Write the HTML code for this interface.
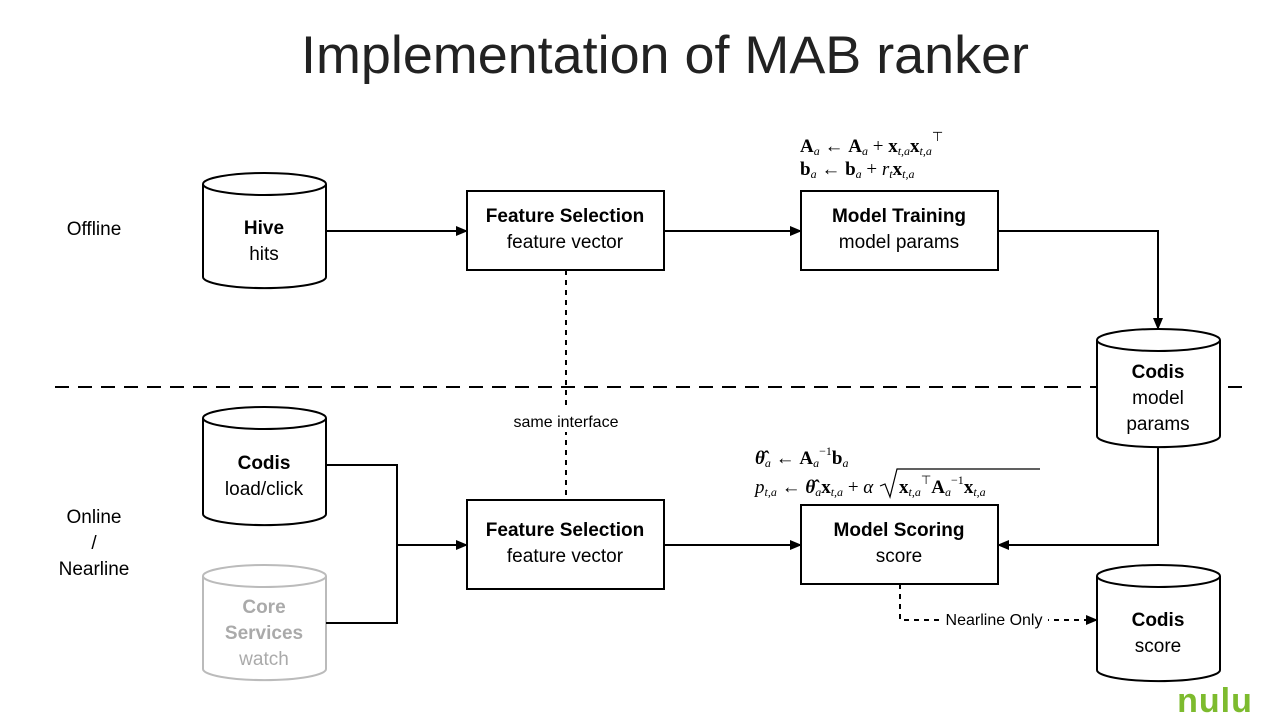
<!DOCTYPE html>
<html><head><meta charset="utf-8"><style>
body{margin:0;background:#fff;}
svg{display:block;font-family:"Liberation Sans",sans-serif;}
.m{font-family:"Liberation Serif",serif;font-size:19px;}
</style></head><body>
<svg width="1280" height="720" viewBox="0 0 1280 720">
<defs><marker id="a" markerWidth="12" markerHeight="10" refX="11" refY="5" orient="auto" markerUnits="userSpaceOnUse"><path d="M0,0 L12,5 L0,10z" fill="#000"/></marker></defs>
<text x="665" y="73" font-size="53" text-anchor="middle" fill="#222" textLength="728" lengthAdjust="spacingAndGlyphs">Implementation of MAB ranker</text>
<line x1="55" y1="387" x2="1245" y2="387" stroke="#000" stroke-width="2" stroke-dasharray="14,9"/>
<text x="94" y="235" font-size="19" text-anchor="middle">Offline</text>
<text x="94" y="523" font-size="19" text-anchor="middle">Online</text>
<text x="94" y="549" font-size="19" text-anchor="middle">/</text>
<text x="94" y="575" font-size="19" text-anchor="middle">Nearline</text>
<g fill="#fff" stroke="#000" stroke-width="2">
<path d="M203,184 V277 A61,11 0 0 0 326,277 V184"/><ellipse cx="264.5" cy="184" rx="61.5" ry="11"/>
<path d="M203,418 V514 A61,11 0 0 0 326,514 V418"/><ellipse cx="264.5" cy="418" rx="61.5" ry="11"/>
<path d="M1097,340 V436 A61,11 0 0 0 1220,436 V340"/><ellipse cx="1158.5" cy="340" rx="61.5" ry="11"/>
<path d="M1097,576 V670 A61,11 0 0 0 1220,670 V576"/><ellipse cx="1158.5" cy="576" rx="61.5" ry="11"/>
<g stroke="#bbb"><path d="M203,576 V669 A61,11 0 0 0 326,669 V576"/><ellipse cx="264.5" cy="576" rx="61.5" ry="11"/></g>
<rect x="467" y="191" width="197" height="79"/><rect x="801" y="191" width="197" height="79"/>
<rect x="467" y="500" width="197" height="89"/><rect x="801" y="505" width="197" height="79"/>
</g>
<g font-size="19" text-anchor="middle">
<text x="264" y="234" font-weight="bold">Hive</text><text x="264" y="260">hits</text>
<text x="264" y="469" font-weight="bold">Codis</text><text x="264" y="495">load/click</text>
<text x="264" y="613" font-weight="bold" fill="#aaa">Core</text><text x="264" y="639" font-weight="bold" fill="#aaa">Services</text><text x="264" y="665" fill="#aaa">watch</text>
<text x="1158" y="378" font-weight="bold">Codis</text><text x="1158" y="404">model</text><text x="1158" y="430">params</text>
<text x="1158" y="626" font-weight="bold">Codis</text><text x="1158" y="652">score</text>
<text x="565" y="222" font-weight="bold">Feature Selection</text><text x="565" y="248">feature vector</text>
<text x="899" y="222" font-weight="bold">Model Training</text><text x="899" y="248">model params</text>
<text x="565" y="536" font-weight="bold">Feature Selection</text><text x="565" y="562">feature vector</text>
<text x="899" y="536" font-weight="bold">Model Scoring</text><text x="899" y="562">score</text>
</g>
<g stroke="#000" stroke-width="2" fill="none">
<line x1="326" y1="231" x2="467" y2="231" marker-end="url(#a)"/>
<line x1="664" y1="231" x2="801" y2="231" marker-end="url(#a)"/>
<polyline points="998,231 1158,231 1158,329" marker-end="url(#a)"/>
<polyline points="1158,447 1158,545 998,545" marker-end="url(#a)"/>
<polyline points="326,465 397,465 397,623 326,623"/>
<line x1="397" y1="545" x2="467" y2="545" marker-end="url(#a)"/>
<line x1="664" y1="545" x2="801" y2="545" marker-end="url(#a)"/>
<line x1="566" y1="270" x2="566" y2="500" stroke-dasharray="5,5"/>
<polyline points="900,584 900,620 1097,620" stroke-dasharray="5,5" marker-end="url(#a)"/>
</g>
<rect x="506" y="410" width="120" height="22" fill="#fff"/>
<text x="566" y="427" font-size="16" text-anchor="middle">same interface</text>
<rect x="940" y="610" width="108" height="20" fill="#fff"/>
<text x="994" y="625" font-size="16" text-anchor="middle">Nearline Only</text>
<text class="m" x="800" y="152"><tspan font-weight="bold">A</tspan><tspan font-size="12" font-style="italic" dy="3">a</tspan><tspan dy="-3"> ← </tspan><tspan font-weight="bold">A</tspan><tspan font-size="12" font-style="italic" dy="3">a</tspan><tspan dy="-3"> + </tspan><tspan font-weight="bold">x</tspan><tspan font-size="12" font-style="italic" dy="3">t,a</tspan><tspan font-weight="bold" dy="-3">x</tspan><tspan font-size="12" font-style="italic" dy="3">t,a</tspan><tspan font-size="13" dy="-14">⊤</tspan></text>
<text class="m" x="800" y="175"><tspan font-weight="bold">b</tspan><tspan font-size="12" font-style="italic" dy="3">a</tspan><tspan dy="-3"> ← </tspan><tspan font-weight="bold">b</tspan><tspan font-size="12" font-style="italic" dy="3">a</tspan><tspan dy="-3"> + </tspan><tspan font-style="italic">r</tspan><tspan font-size="12" font-style="italic" dy="3">t</tspan><tspan font-weight="bold" dy="-3">x</tspan><tspan font-size="12" font-style="italic" dy="3">t,a</tspan></text>
<text class="m" x="755" y="464"><tspan font-weight="bold" font-style="italic">θ̂</tspan><tspan font-size="12" font-style="italic" dy="3">a</tspan><tspan dy="-3"> ← </tspan><tspan font-weight="bold">A</tspan><tspan font-size="12" font-style="italic" dy="3">a</tspan><tspan font-size="12" dy="-12">−1</tspan><tspan font-weight="bold" dy="9">b</tspan><tspan font-size="12" font-style="italic" dy="3">a</tspan></text>
<text class="m" x="755" y="493"><tspan font-style="italic">p</tspan><tspan font-size="12" font-style="italic" dy="3">t,a</tspan><tspan dy="-3"> ← </tspan><tspan font-weight="bold" font-style="italic">θ̂</tspan><tspan font-size="12" font-style="italic" dy="3">a</tspan><tspan font-weight="bold" dy="-3">x</tspan><tspan font-size="12" font-style="italic" dy="3">t,a</tspan><tspan dy="-3"> + </tspan><tspan font-style="italic">α</tspan></text>
<path d="M880,486 L885,484 L890,497 L897,469 L1040,469" stroke="#000" stroke-width="1.2" fill="none"/>
<text class="m" x="899" y="493"><tspan font-weight="bold">x</tspan><tspan font-size="12" font-style="italic" dy="3">t,a</tspan><tspan font-size="12" dy="-12">⊤</tspan><tspan font-weight="bold" dy="9">A</tspan><tspan font-size="12" font-style="italic" dy="3">a</tspan><tspan font-size="12" dy="-12">−1</tspan><tspan font-weight="bold" dy="9">x</tspan><tspan font-size="12" font-style="italic" dy="3">t,a</tspan></text>
<text x="1215" y="712" font-size="34" font-weight="bold" fill="#7dbb2e" text-anchor="middle" letter-spacing="1">nulu</text>
</svg>
</body></html>
